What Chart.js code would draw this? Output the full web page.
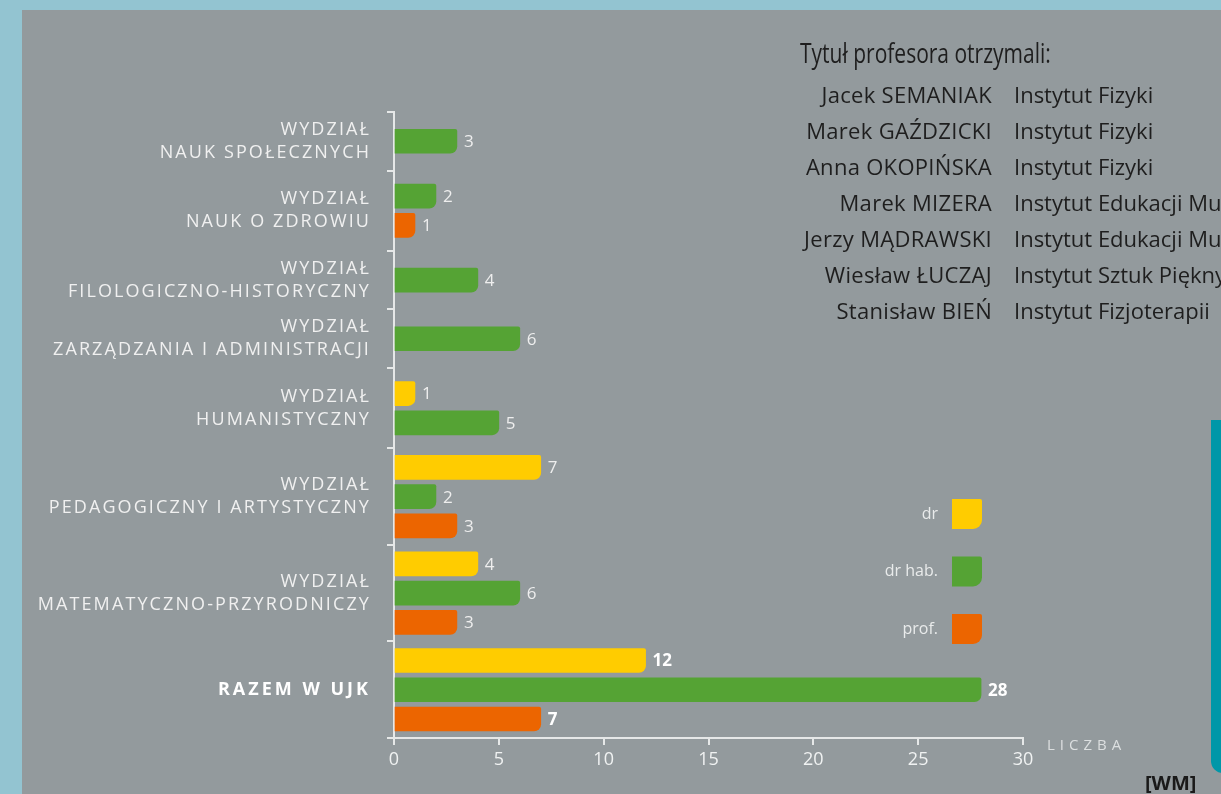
<!DOCTYPE html>
<html lang="pl">
<head>
  <meta charset="UTF-8">
  <title>Awanse naukowe w UJK</title>
  <script src="https://cdn.jsdelivr.net/npm/chart.js"></script>
  <style>
    body {
      margin: 0;
      width: 1221px;
      height: 794px;
      overflow: hidden;
      background: #93c4d1;
      font-family: 'Open Sans', sans-serif;
    }
    #panel {
      position: absolute;
      left: 22px;
      top: 10px;
      width: 1199px;
      height: 784px;
      background: #939a9d;
      overflow: hidden;
    }
    #wykres { position: absolute; left: 0; top: 0; }
    #teal {
      position: absolute;
      left: 1189px;
      top: 410px;
      width: 40px;
      height: 353px;
      background: #0097a8;
      border-bottom-left-radius: 12px;
    }
    #tytul {
      position: absolute;
      left: 778px;
      top: 24px;
      font-size: 28px;
      line-height: 36px;
      color: #1e1e1e;
      white-space: nowrap;
      transform: scaleX(0.75);
      transform-origin: left top;
    }
    #nazwiska, #instytuty {
      position: absolute;
      top: 66px;
      font-size: 22px;
      line-height: 36px;
      color: #1e1e1e;
      white-space: nowrap;
    }
    #nazwiska { right: 229px; text-align: right; letter-spacing: 0.3px; }
    #instytuty { left: 992px; }
    #wm {
      position: absolute;
      left: 1123px;
      top: 763px;
      font-size: 20px;
      line-height: 20px;
      font-weight: bold;
      color: #1a1a1a;
    }
  </style>
</head>
<body>
  <div id="panel">
    <canvas id="wykres" width="1199" height="784"></canvas>
    <div id="teal"></div>
    <div id="tytul">Tytuł profesora otrzymali:</div>
    <div id="nazwiska"></div>
    <div id="instytuty"></div>
    <div id="wm">[WM]</div>
  </div>

  <script>
    const wydzialy = [
      ['WYDZIAŁ', 'NAUK SPOŁECZNYCH'],
      ['WYDZIAŁ', 'NAUK O ZDROWIU'],
      ['WYDZIAŁ', 'FILOLOGICZNO-HISTORYCZNY'],
      ['WYDZIAŁ', 'ZARZĄDZANIA I ADMINISTRACJI'],
      ['WYDZIAŁ', 'HUMANISTYCZNY'],
      ['WYDZIAŁ', 'PEDAGOGICZNY I ARTYSTYCZNY'],
      ['WYDZIAŁ', 'MATEMATYCZNO-PRZYRODNICZY'],
      ['RAZEM W UJK']
    ];
    const dr    = [null, null, null, null, 1, 7, 4, 12];
    const drHab = [3, 2, 4, 6, 5, 2, 6, 28];
    const prof  = [null, 1, null, null, null, 3, 3, 7];
    const stopnie = ['dr', 'dr hab.', 'prof.'];

    const profesorowie = [
      'Jacek SEMANIAK', 'Marek GAŹDZICKI', 'Anna OKOPIŃSKA', 'Marek MIZERA',
      'Jerzy MĄDRAWSKI', 'Wiesław ŁUCZAJ', 'Stanisław BIEŃ'
    ];
    const instytuty = [
      'Instytut Fizyki', 'Instytut Fizyki', 'Instytut Fizyki', 'Instytut Edukacji Muzycznej',
      'Instytut Edukacji Muzycznej', 'Instytut Sztuk Pięknych', 'Instytut Fizjoterapii'
    ];

    document.getElementById('nazwiska').innerHTML = profesorowie.join('<br>');
    document.getElementById('instytuty').innerHTML = instytuty.join('<br>');

    const kolory = ['#ffcc00', '#55a334', '#ec6500'];

    // pas wydzialu zalezy od liczby slupkow (jak w oryginale, nie rowne odstepy)
    const ZAPAS = { 1: 1, 2: 0.75, 3: 0.3 };
    const serie = [dr, drHab, prof];
    const punkty = serie.map(() => []);
    const granice = [0];
    const srodki = [];
    let pos = 0;
    wydzialy.forEach((_, i) => {
      const obecne = serie.map(s => s[i] != null);
      const n = obecne.filter(Boolean).length;
      const pas = n + ZAPAS[n];
      let k = 0;
      serie.forEach((s, j) => {
        if (obecne[j]) punkty[j].push({ x: s[i], y: pos + (pas - n) / 2 + 0.5 + k++, w: i });
      });
      srodki.push(pos + pas / 2);
      pos += pas;
      granice.push(pos);
    });
    const ostatni = wydzialy.length - 1;

    const etykietyOsi = {
      id: 'etykietyOsi',
      afterDraw(chart) {
        const { ctx, chartArea, scales } = chart;
        ctx.save();
        ctx.textAlign = 'right';
        ctx.textBaseline = 'middle';
        wydzialy.forEach((linie, i) => {
          const razem = i === ostatni;
          ctx.font = (razem ? 'bold ' : '') + '18px "Open Sans"';
          ctx.letterSpacing = razem ? '3px' : '2.1px';
          ctx.fillStyle = razem ? '#ffffff' : '#f0f0f0';
          const yc = scales.y.getPixelForValue(srodki[i]);
          linie.forEach((t, k) => {
            ctx.fillText(t, chartArea.left - 23, yc + (k - (linie.length - 1) / 2) * 23);
          });
        });

        // wartosci przy slupkach
        ctx.textAlign = 'left';
        ctx.letterSpacing = '0px';
        chart.data.datasets.forEach((ds, j) => {
          chart.getDatasetMeta(j).data.forEach((bar, i) => {
            const p = ds.data[i];
            const razem = p.w === ostatni;
            ctx.font = (razem ? 'bold ' : '') + '17px "Open Sans"';
            ctx.fillStyle = razem ? '#ffffff' : '#eeeeee';
            ctx.fillText(p.x, bar.x + 7, bar.y + 1);
          });
        });

        // LICZBA
        ctx.font = '15px "Open Sans"';
        ctx.letterSpacing = '5px';
        ctx.fillStyle = '#dcdfe0';
        ctx.fillText('LICZBA', chartArea.right + 24, chartArea.bottom + 8);

        // legenda
        ctx.letterSpacing = '0px';
        ctx.textAlign = 'right';
        ctx.font = '16px "Open Sans"';
        chart.data.datasets.forEach((ds, j) => {
          const top = 489 + j * 57.5;
          ctx.fillStyle = ds.backgroundColor;
          ctx.beginPath();
          ctx.roundRect(930, top, 30, 30, [0, 2, 9, 0]);
          ctx.fill();
          ctx.fillStyle = '#e9ebeb';
          ctx.fillText(ds.label, 916, top + 15);
        });
        ctx.restore();
      }
    };

    const osKolor = '#e6e8e8';

    new Chart(document.getElementById('wykres'), {
      type: 'bar',
      data: {
        datasets: stopnie.map((label, j) => ({
          label: label,
          data: punkty[j],
          backgroundColor: kolory[j],
          grouped: false,
          barThickness: 24,
          borderRadius: { topRight: 2, bottomRight: 7 }
        }))
      },
      options: {
        indexAxis: 'y',
        responsive: false,
        animation: false,
        layout: { padding: { top: 102, right: 198, bottom: 0, left: 0 } },
        plugins: {
          legend: { display: false },
          tooltip: { enabled: false }
        },
        scales: {
          x: {
            type: 'linear',
            min: 0,
            max: 30,
            ticks: {
              stepSize: 5,
              color: '#f0f2f2',
              padding: 4,
              font: { family: 'Open Sans', size: 18 }
            },
            grid: { drawOnChartArea: false, color: osKolor, lineWidth: 2, tickLength: 7 },
            border: { color: osKolor, width: 2 },
            afterFit: s => { s.height = 56; }
          },
          y: {
            type: 'linear',
            reverse: true,
            offset: false,
            min: 0,
            max: pos,
            afterBuildTicks: s => { s.ticks = granice.map(v => ({ value: v })); },
            ticks: { display: false },
            grid: { offset: false, drawOnChartArea: false, color: osKolor, lineWidth: 2, tickLength: 7 },
            border: { color: osKolor, width: 2 },
            afterFit: s => { s.width = 372; }
          }
        }
      },
      plugins: [etykietyOsi]
    });
  </script>
</body>
</html>
